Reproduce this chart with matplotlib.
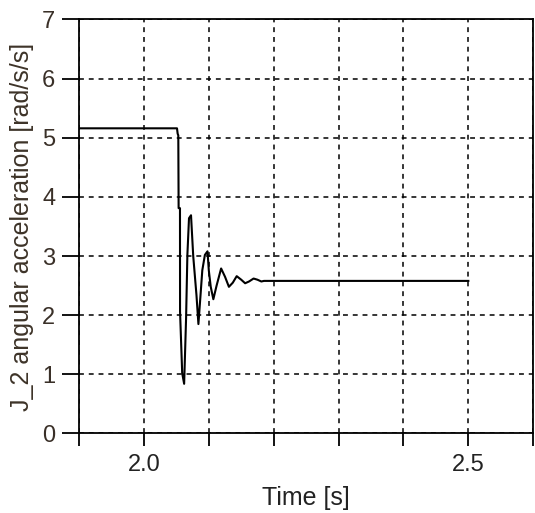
import numpy as np
import matplotlib.pyplot as plt
from matplotlib.ticker import MultipleLocator, FixedLocator

# time [s] and J_2 angular acceleration [rad/s/s]
t = [1.9, 2.051, 2.052, 2.053, 2.0535, 2.0556, 2.0557, 2.059, 2.062, 2.065,
     2.067, 2.0695, 2.0726, 2.076, 2.081, 2.084, 2.087, 2.090, 2.094, 2.098,
     2.100, 2.103, 2.107, 2.112, 2.119, 2.125, 2.131, 2.137, 2.143, 2.150,
     2.156, 2.162, 2.169, 2.175, 2.181, 2.185, 2.5]
acc = [5.16, 5.16, 5.07, 5.04, 3.81, 3.81, 2.06, 1.02, 0.84, 1.95,
       3.02, 3.64, 3.69, 3.00, 2.34, 1.85, 2.30, 2.76, 3.02, 3.08,
       2.76, 2.48, 2.27, 2.50, 2.79, 2.65, 2.48, 2.55, 2.66, 2.60,
       2.54, 2.57, 2.62, 2.60, 2.57, 2.58, 2.58]

xlabels = [2.0, 2.5]

plt.rcParams['font.family'] = ['Liberation Sans', 'DejaVu Sans']

fig = plt.figure(figsize=(5.35, 5.13), dpi=100)
ax = fig.add_axes([0.1477, 0.155, 0.849, 0.807])

ax.plot(t, acc, color='black', lw=1.5)

ax.set_xlim(1.9, 2.6)
ax.set_ylim(0, 7)
ax.xaxis.set_major_locator(FixedLocator(xlabels))
ax.xaxis.set_major_formatter(plt.FuncFormatter(lambda v, p: f'{v:.1f}'))
ax.xaxis.set_minor_locator(MultipleLocator(0.1))
ax.yaxis.set_major_locator(MultipleLocator(1))

dash = (0, (3.2, 3.2))
ax.grid(True, which='both', axis='x', color='black', ls=dash, lw=1.1)
ax.grid(True, which='major', axis='y', color='black', ls=dash, lw=1.1)

ax.tick_params(axis='x', which='both', direction='out', length=9, width=1.3,
               labelsize=17, pad=6, labelcolor='#222222')
ax.tick_params(axis='y', direction='out', length=12, width=1.3,
               labelsize=17, pad=5, labelcolor='#3a3028')
for s in ax.spines.values():
    s.set_linewidth(1.3)

ax.set_xlabel('Time [s]', fontsize=18, color='#222222', labelpad=7)
ax.set_ylabel('J_2 angular acceleration [rad/s/s]', fontsize=18,
              color='#3d3328', labelpad=6)

fig.savefig('out.png', dpi=100)
